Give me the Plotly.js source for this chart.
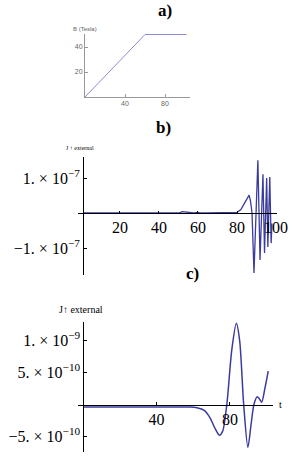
<!DOCTYPE html>
<html>
<head>
<meta charset="utf-8">
<script src="https://cdn.plot.ly/plotly-3.0.1.min.js"></script>
<style>html,body{margin:0;padding:0;background:#fff;}#chart{width:291px;height:459px;}</style>
</head>
<body>
<div id="chart"></div>
<script>
// Panel a: magnetic field ramp
const aTime = [0, 60, 101.5];
const aField = [0, 50, 50];
const aXTicks = [40, 80];
const aYTicks = [20, 40];

// Panel b: J external (units of 1e-7)
const bTime = [1.5, 10, 20, 30, 40, 48, 50, 52, 54, 56, 58, 59.7, 61, 65, 70, 75, 78, 80, 82, 84, 85.3, 86.2, 86.9, 87.7, 88.7, 89.7, 90.7, 91.8, 92.5, 93.3, 94.1, 94.6, 95.2, 95.8, 96.3, 96.8, 97.5, 97.9];
const bJ = [0, 0, 0, 0, 0, 0, 0, 0.04, 0.02, 0, 0, 0.015, 0, 0, 0, 0, 0, 0.02, 0.1, 0.28, 0.42, 0.51, 0.35, 0, -1.71, 0, 1.51, -1.34, 0, 1.11, -1.14, 0, 1.0, -0.97, 0, 1.03, -0.86, -0.3];
const bXTicks = [20, 40, 60, 80, 100];
const bYTicks = [1e-7, -1e-7];
const bYTickText = ['1. × 10<sup>−7</sup>', '−1. × 10<sup>−7</sup>'];

// Panel c: J external (units of 1e-10)
const cTime = [0, 20, 40, 58, 62, 66, 69, 72, 74.3, 76, 78.3, 81, 83.5, 85.3, 87.5, 89.8, 91.5, 93.1, 94.9, 96, 97.3, 99, 100.9];
const cJ = [-0.4, -0.4, -0.4, -0.4, -0.5, -0.9, -2.0, -3.8, -4.8, -4.2, 0, 8.5, 12.7, 10.0, 0, -6.7, -3.2, 0, 1.2, 0.9, 0.36, 2.4, 5.2];
const cXTicks = [40, 80];
const cYTicks = [1e-9, 5e-10, -5e-10];
const cYTickText = ['1. × 10<sup>−9</sup>', '5. × 10<sup>−10</sup>', '−5. × 10<sup>−10</sup>'];

const W = 291, H = 459;
const px = x => x / W;
const py = y => 1 - y / H;

const serif = 'Liberation Serif, Times New Roman, serif';
const curveColor = '#3b3b9e';

const traces = [
  {x: aTime, y: aField, xaxis: 'x', yaxis: 'y', mode: 'lines',
   line: {color: '#8c8cd2', width: 1}},
  {x: bTime, y: bJ.map(v => v * 1e-7), xaxis: 'x2', yaxis: 'y2', mode: 'lines',
   line: {color: curveColor, width: 1.3}},
  {x: cTime, y: cJ.map(v => v * 1e-10), xaxis: 'x3', yaxis: 'y3', mode: 'lines',
   line: {color: curveColor, width: 1.5, shape: 'spline', smoothing: 0.8}}
];

const baseAxis = {showgrid: false, zeroline: false, showline: true, linewidth: 1,
  ticks: 'inside', ticklen: 3, tickwidth: 1, fixedrange: true};

const layout = {
  width: W, height: H,
  margin: {l: 0, r: 0, t: 0, b: 0},
  paper_bgcolor: '#fff', plot_bgcolor: 'rgba(0,0,0,0)',
  showlegend: false,
  xaxis: Object.assign({}, baseAxis, {domain: [px(85), px(190)], range: [0, 105], anchor: 'y',
    linecolor: '#999', tickcolor: '#999', tickmode: 'array', tickvals: aXTicks,
    tickfont: {family: 'Liberation Sans, Arial, sans-serif', size: 7, color: '#666'}}),
  yaxis: Object.assign({}, baseAxis, {domain: [py(97), py(34)], range: [0, 50.4], anchor: 'x',
    linecolor: '#999', tickcolor: '#999', tickmode: 'array', tickvals: aYTicks,
    tickfont: {family: 'Liberation Sans, Arial, sans-serif', size: 7, color: '#666'}}),
  xaxis2: Object.assign({}, baseAxis, {domain: [px(78), px(277)], range: [-1.5, 100.5],
    anchor: 'free', position: py(213), linecolor: '#000', tickcolor: '#000',
    tickmode: 'array', tickvals: bXTicks, ticklen: 2.5,
    tickfont: {family: serif, size: 16, color: '#000'}}),
  yaxis2: Object.assign({}, baseAxis, {domain: [py(275), py(157)], range: [-1.771e-7, 1.6e-7],
    anchor: 'free', position: px(83), linecolor: '#000', tickcolor: '#000',
    tickmode: 'array', tickvals: bYTicks, ticktext: bYTickText,
    tickfont: {family: serif, size: 16, color: '#000'}}),
  xaxis3: Object.assign({}, baseAxis, {domain: [px(78), px(273)], range: [-2.9, 103.5],
    anchor: 'free', position: py(404.5), linecolor: '#000', tickcolor: '#000',
    tickmode: 'array', tickvals: cXTicks,
    tickfont: {family: serif, size: 16, color: '#000'}}),
  yaxis3: Object.assign({}, baseAxis, {domain: [py(452), py(322)], range: [-0.742e-9, 1.289e-9],
    anchor: 'free', position: px(83.3), linecolor: '#000', tickcolor: '#000',
    tickmode: 'array', tickvals: cYTicks, ticktext: cYTickText,
    tickfont: {family: serif, size: 16, color: '#000'}}),
  annotations: [
    {text: '<b>a)</b>', x: px(165), y: py(11), xref: 'paper', yref: 'paper', showarrow: false,
     xanchor: 'center', yanchor: 'middle', font: {family: serif, size: 17, color: '#000'}},
    {text: 'B (Tesla)', x: px(85), y: py(29), xref: 'paper', yref: 'paper', showarrow: false,
     xanchor: 'center', yanchor: 'middle', font: {family: 'Liberation Sans, Arial, sans-serif', size: 6, color: '#666'}},
    {text: '<b>b)</b>', x: px(163), y: py(127), xref: 'paper', yref: 'paper', showarrow: false,
     xanchor: 'center', yanchor: 'middle', font: {family: serif, size: 17, color: '#000'}},
    {text: 'J ↑ external', x: px(80), y: py(148), xref: 'paper', yref: 'paper', showarrow: false,
     xanchor: 'center', yanchor: 'middle', font: {family: serif, size: 6, color: '#000'}},
    {text: '<b>c)</b>', x: px(192), y: py(273), xref: 'paper', yref: 'paper', showarrow: false,
     xanchor: 'center', yanchor: 'middle', font: {family: serif, size: 17, color: '#000'}},
    {text: 'J↑ external', x: px(81), y: py(309), xref: 'paper', yref: 'paper', showarrow: false,
     xanchor: 'center', yanchor: 'middle', font: {family: serif, size: 10, color: '#000'}},
    {text: 't', x: px(280), y: py(404), xref: 'paper', yref: 'paper', showarrow: false,
     xanchor: 'center', yanchor: 'middle', font: {family: serif, size: 10, color: '#000'}}
  ]
};

Plotly.newPlot('chart', traces, layout, {staticPlot: true, displayModeBar: false});
</script>
</body>
</html>
